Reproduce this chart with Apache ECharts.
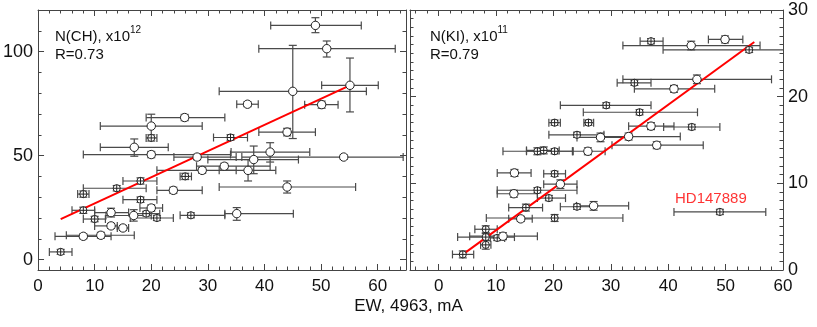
<!DOCTYPE html>
<html>
<head>
<meta charset="utf-8">
<script src="https://cdn.jsdelivr.net/npm/echarts@6/dist/echarts.min.js"></script>
<style>
  html, body { margin: 0; padding: 0; background: #fff; }
  #chart { width: 817px; height: 327px; }
</style>
</head>
<body>
<div id="chart"></div>
<script>
// left panel, N(CH) x10^12 against EW
const chX    = [25.9, 20.0, 20.0, 17.0, 20.0, 28.1, 29.0, 32.9, 26.0, 18.1, 13.9, 8.0, 23.9, 18.1, 8.0, 12.9, 10.0, 16.9, 19.1, 20.0, 21.0, 12.9, 15.0, 8.0, 11.1, 4.0, 27.0, 35.1, 41.0, 38.1, 54.0, 37.1, 44.0, 49.0, 51.0, 45.0, 55.1, 37.0, 50.1, 44.0, 34.0];
const chY    = [68.3, 64.2, 58.5, 54.0, 50.5, 49.3, 42.9, 44.9, 40.0, 37.8, 34.3, 31.5, 33.3, 28.8, 23.7, 22.6, 19.5, 21.2, 22.1, 24.8, 20.0, 16.2, 15.2, 11.2, 11.7, 3.7, 21.3, 22.1, 51.7, 48.1, 49.3, 42.9, 34.9, 112.6, 101.4, 80.9, 83.8, 74.7, 74.5, 61.3, 58.7];
const chXlo  = [19.1, 11.0, 19.1, 11.0, 8.0, 24.0, 21.0, 28.0, 25.1, 15.0, 8.0, 7.0, 21.0, 15.0, 6.0, 10.0, 8.0, 12.0, 17.0, 18.0, 16.3, 10.0, 14.0, 3.0, 5.0, 2.0, 25.1, 33.0, 34.1, 30.0, 36.0, 32.0, 32.0, 41.1, 39.0, 32.0, 50.1, 35.1, 47.1, 39.0, 31.0];
const chXhi  = [33.0, 29.0, 21.0, 23.0, 34.0, 35.0, 35.0, 41.0, 27.1, 21.0, 19.1, 9.0, 29.0, 21.0, 10.0, 16.0, 11.9, 20.0, 21.5, 22.0, 23.9, 14.0, 16.0, 12.9, 17.0, 6.0, 33.0, 45.1, 48.0, 46.0, 64.5, 42.0, 56.1, 57.1, 63.1, 58.0, 60.1, 38.9, 53.0, 49.0, 37.0];
const chYlo  = [66.8, 58.5, 57.0, 49.7, 49.0, 48.0, 41.5, 43.5, 38.5, 36.3, 33.0, 30.0, 31.8, 27.5, 22.2, 20.5, 18.2, 18.5, 21.0, 23.3, 18.8, 15.0, 14.0, 10.0, 10.3, 2.5, 20.1, 18.9, 46.9, 41.3, 48.3, 37.8, 32.0, 109.1, 97.4, 58.2, 71.0, 73.5, 72.8, 59.5, 57.4];
const chYhi  = [69.8, 69.9, 60.0, 58.0, 52.0, 50.6, 44.3, 46.3, 41.5, 39.3, 35.6, 33.0, 34.8, 30.1, 25.2, 24.7, 20.8, 24.0, 23.2, 26.3, 21.2, 17.4, 16.4, 12.4, 13.1, 4.9, 22.5, 25.0, 56.2, 54.6, 50.3, 48.1, 37.8, 116.3, 105.1, 103.0, 96.9, 75.9, 76.2, 63.1, 60.0];
const chKind = ['o', 'o', '+', 'o', 'o', 'o', 'o', 'o', '+', '+', '+', '+', 'o', '+', '+', 'o', '+', 'o', '+', 'o', '+', 'o', 'o', 'o', 'o', '+', '+', 'o', 'o', 'o', 'o', 'o', 'o', 'o', 'o', 'o', 'o', 'o', 'o', 'o', '+'];
const chFitX = [4.0, 55.1];
const chFitY = [19.5, 83.8];

// right panel, N(KI) x10^11 against EW; last point is HD147889
const kiX    = [4.2, 8.2, 8.2, 8.2, 10.2, 11.2, 14.3, 20.2, 15.2, 24.1, 27.0, 19.2, 13.1, 17.2, 21.2, 20.2, 13.2, 17.2, 18.3, 20.2, 26.0, 20.2, 24.1, 28.2, 26.1, 37.0, 44.0, 49.9, 54.1, 34.1, 45.0, 41.0, 29.2, 35.0, 37.0, 44.1, 33.1, 38.0, 49.0];
const kiY    = [1.8, 4.7, 3.8, 2.9, 3.7, 3.9, 5.9, 6.0, 7.2, 7.3, 7.4, 8.3, 8.8, 9.2, 9.9, 11.1, 11.2, 13.7, 13.8, 13.7, 13.7, 17.0, 15.6, 15.3, 17.0, 26.4, 25.9, 26.6, 25.4, 21.6, 22.0, 20.9, 19.0, 18.2, 16.6, 16.5, 15.4, 14.4, 6.7];
const kiXlo  = [2.4, 6.3, 3.3, 7.3, 9.0, 5.4, 12.2, 8.3, 12.2, 21.2, 24.0, 17.2, 10.2, 10.2, 18.3, 18.3, 10.2, 11.2, 15.3, 15.3, 23.4, 19.2, 19.2, 24.1, 25.3, 35.1, 32.1, 47.0, 39.1, 31.1, 32.1, 34.1, 21.2, 25.2, 33.1, 39.2, 28.2, 30.2, 41.0];
const kiXhi  = [6.1, 10.2, 13.2, 9.1, 11.5, 17.2, 16.3, 32.1, 18.1, 27.0, 33.1, 22.1, 17.2, 24.1, 24.1, 22.1, 16.1, 23.3, 21.0, 23.4, 29.0, 21.2, 28.8, 33.1, 27.0, 39.1, 56.0, 53.0, 61.0, 37.0, 58.0, 48.1, 37.0, 45.1, 41.0, 49.0, 42.1, 46.1, 57.0];
const kiYlo  = [1.4, 4.3, 3.4, 2.4, 3.4, 3.5, 5.6, 5.6, 6.8, 7.0, 6.9, 8.0, 8.4, 8.9, 9.4, 10.8, 10.8, 13.3, 13.4, 13.4, 13.3, 16.7, 15.3, 14.8, 16.7, 26.1, 25.4, 26.2, 25.1, 21.3, 21.5, 20.5, 18.7, 17.9, 16.2, 16.2, 15.0, 14.0, 6.4];
const kiYhi  = [2.2, 5.1, 4.2, 3.4, 4.0, 4.3, 6.2, 6.4, 7.6, 7.6, 7.9, 8.6, 9.2, 9.5, 10.4, 11.4, 11.6, 14.1, 14.2, 14.0, 14.1, 17.3, 15.9, 15.8, 17.3, 26.7, 26.4, 27.0, 25.7, 21.9, 22.5, 21.3, 19.3, 18.5, 17.0, 16.8, 15.8, 14.8, 7.0];
const kiKind = ['+', '+', '+', '+', '+', 'o', 'o', '+', '+', '+', 'o', '+', 'o', '+', 'o', '+', 'o', '+', '+', '+', 'o', '+', '+', 'o', '+', '+', 'o', 'o', '+', '+', 'o', 'o', '+', '+', 'o', '+', 'o', 'o', '+'];
const kiFitX = [3.8, 55.0];
const kiFitY = [1.6, 26.3];
const outlierName = 'HD147889';

const FONT = '"Liberation Sans", Arial, sans-serif';
const AXIS = '#444';
const BAR = '#4a4a4a';

function rows(x, y, xlo, xhi, ylo, yhi, kind) {
  return x.map((v, i) => [v, y[i], xlo[i], xhi[i], ylo[i], yhi[i], kind[i] === 'o' ? 0 : 1]);
}

function renderBars(params, api) {
  const x = api.value(0), y = api.value(1);
  const l = api.coord([api.value(2), y]);
  const r = api.coord([api.value(3), y]);
  const b = api.coord([x, api.value(4)]);
  const t = api.coord([x, api.value(5)]);
  const c = 4;
  const st = { stroke: BAR, lineWidth: 1.2 };
  const seg = (x1, y1, x2, y2) => ({ type: 'line', shape: { x1, y1, x2, y2 }, style: st });
  return {
    type: 'group',
    children: [
      seg(l[0], l[1], r[0], r[1]),
      seg(l[0], l[1] - c, l[0], l[1] + c),
      seg(r[0], r[1] - c, r[0], r[1] + c),
      seg(b[0], b[1], t[0], t[1]),
      seg(b[0] - c, b[1], b[0] + c, b[1]),
      seg(t[0] - c, t[1], t[0] + c, t[1])
    ]
  };
}

function renderMarker(params, api) {
  const p = api.coord([api.value(0), api.value(1)]);
  const open = api.value(6) === 0;
  const rad = open ? 4.2 : 3.6;
  const st = { stroke: '#222', lineWidth: 1 };
  const kids = [{ type: 'circle', shape: { cx: p[0], cy: p[1], r: rad }, style: { fill: '#fff', stroke: '#222', lineWidth: 1 } }];
  if (!open) {
    kids.push({ type: 'line', shape: { x1: p[0] - rad, y1: p[1], x2: p[0] + rad, y2: p[1] }, style: st });
    kids.push({ type: 'line', shape: { x1: p[0], y1: p[1] - rad, x2: p[0], y2: p[1] + rad }, style: st });
  }
  return { type: 'group', children: kids };
}

function xAxisPair(grid, min, max, extra) {
  const base = {
    gridIndex: grid, type: 'value', min, max,
    axisLine: { show: true, onZero: false, lineStyle: { color: AXIS, width: 1 } },
    axisTick: { show: true, inside: true, length: 6, lineStyle: { color: AXIS } },
    minorTick: { show: true, splitNumber: 5, length: 3.5, lineStyle: { color: AXIS } },
    splitLine: { show: false },
    ...extra
  };
  return [
    { ...base, position: 'bottom',
      axisLabel: { show: true, margin: 8, fontSize: 17, color: '#111', fontFamily: FONT, showMinLabel: grid === 0, showMaxLabel: grid === 1 } },
    { ...base, position: 'top', axisLabel: { show: false } }
  ];
}

function yAxisPair(grid, min, max, labelSide, minor, extra) {
  const base = {
    gridIndex: grid, type: 'value', min, max,
    axisLine: { show: true, onZero: false, lineStyle: { color: AXIS, width: 1 } },
    axisTick: { show: true, inside: true, length: 6, lineStyle: { color: AXIS } },
    minorTick: { show: true, splitNumber: minor, length: 3.5, lineStyle: { color: AXIS } },
    splitLine: { show: false },
    ...extra
  };
  const label = { show: true, margin: 5, fontSize: 18, color: '#111', fontFamily: FONT, showMinLabel: grid === 1, showMaxLabel: grid === 1 };
  return [
    { ...base, position: 'left', axisLabel: labelSide === 'left' ? label : { show: false } },
    { ...base, position: 'right', axisLabel: labelSide === 'right' ? label : { show: false } }
  ];
}

const chRows = rows(chX, chY, chXlo, chXhi, chYlo, chYhi, chKind);
const kiRows = rows(kiX, kiY, kiXlo, kiXhi, kiYlo, kiYhi, kiKind);
const hdIdx = kiX.length - 1;

const chart = echarts.init(document.getElementById('chart'), null, { renderer: 'canvas' });
chart.setOption({
  animation: false,
  backgroundColor: '#fff',
  textStyle: { fontFamily: FONT },
  grid: [
    { left: 35, top: 10, width: 371, height: 260 },
    { left: 410, top: 10, width: 373, height: 260 }
  ],
  xAxis: [
    ...xAxisPair(0, 0, 65, { interval: 10 }),
    ...xAxisPair(1, -5, 60, { splitNumber: 6 })
  ],
  yAxis: [
    ...yAxisPair(0, -5, 120, 'left', 5, { splitNumber: 3 }),
    ...yAxisPair(1, 0, 30, 'right', 10, { interval: 10 })
  ],
  series: [
    { type: 'custom', xAxisIndex: 0, yAxisIndex: 0, data: chRows, renderItem: renderBars, clip: true, z: 2, silent: true },
    { type: 'line', xAxisIndex: 0, yAxisIndex: 0, data: chFitX.map((v, i) => [v, chFitY[i]]), symbol: 'none',
      lineStyle: { color: '#ff0000', width: 2 }, z: 3, silent: true },
    { type: 'custom', xAxisIndex: 0, yAxisIndex: 0, data: chRows, renderItem: renderMarker, clip: true, z: 4, silent: true },

    { type: 'custom', xAxisIndex: 2, yAxisIndex: 2, data: kiRows, renderItem: renderBars, clip: true, z: 2, silent: true },
    { type: 'line', xAxisIndex: 2, yAxisIndex: 2, data: kiFitX.map((v, i) => [v, kiFitY[i]]), symbol: 'none',
      lineStyle: { color: '#ff0000', width: 2 }, z: 3, silent: true },
    { type: 'custom', xAxisIndex: 2, yAxisIndex: 2, data: kiRows, renderItem: renderMarker, clip: true, z: 4, silent: true },
    { type: 'scatter', xAxisIndex: 2, yAxisIndex: 2, data: [[kiX[hdIdx], kiY[hdIdx]]], symbolSize: 2,
      itemStyle: { color: 'rgba(0,0,0,0)' }, z: 5, silent: true,
      label: { show: true, position: 'top', distance: 5, offset: [-9, 0], formatter: outlierName,
        color: '#ff0000', fontSize: 15, fontFamily: FONT } }
  ],
  graphic: [
    { type: 'text', left: 55, top: 25, style: { text: '{a|N(CH), x10}{s|12}', rich: {
        a: { fontSize: 15, fontFamily: FONT, fill: '#111', verticalAlign: 'bottom' },
        s: { fontSize: 10, fontFamily: FONT, fill: '#111', verticalAlign: 'top', padding: [0, 0, 9, 0] } } } },
    { type: 'text', left: 55, top: 47, style: { text: 'R=0.73', font: '15px ' + FONT, fill: '#111' } },
    { type: 'text', left: 430, top: 25, style: { text: '{a|N(KI), x10}{s|11}', rich: {
        a: { fontSize: 15, fontFamily: FONT, fill: '#111', verticalAlign: 'bottom' },
        s: { fontSize: 10, fontFamily: FONT, fill: '#111', verticalAlign: 'top', padding: [0, 0, 9, 0] } } } },
    { type: 'text', left: 430, top: 47, style: { text: 'R=0.79', font: '15px ' + FONT, fill: '#111' } },
    { type: 'text', left: 'center', top: 298, style: { text: 'EW, 4963, mA', font: '17px ' + FONT, fill: '#111' } }
  ]
});
</script>
</body>
</html>
